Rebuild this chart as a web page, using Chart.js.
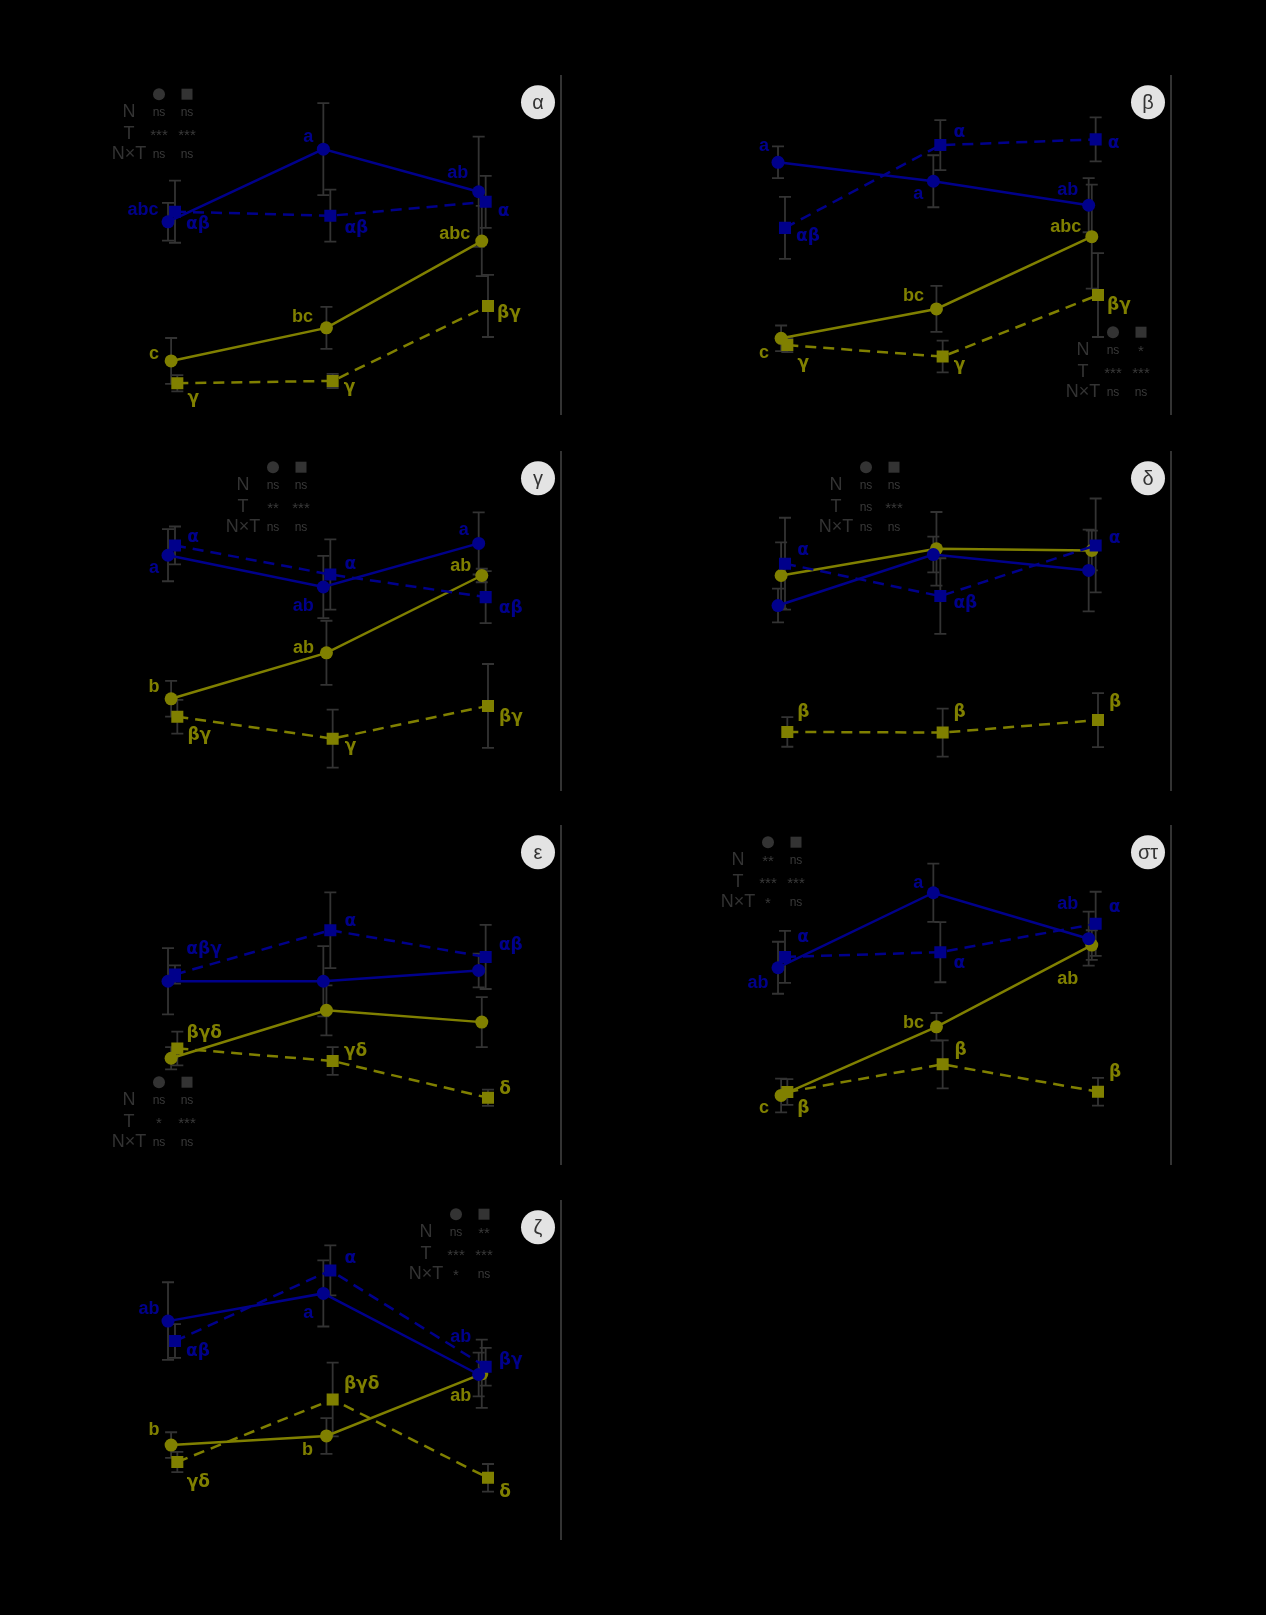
<!DOCTYPE html>
<html lang="el">
<head>
    <meta charset="UTF-8">
    <title>Panels α–ζ</title>
    <script src="https://cdn.jsdelivr.net/npm/chart.js"></script>
    <style>
        body {
            margin: 0;
            background-color: #000;
        }

        #page {
            position: relative;
            width: 1266px;
            height: 1615px;
        }

        .panel {
            position: absolute;
            width: 600px;
            height: 376px;
        }
    </style>
</head>
<body>

    <div id="page"></div>

    <script>
        // Séries : [bleu ●, bleu ■, olive ●, olive ■], 3 dates chacune
        const timePoints = [1, 2, 3];
        const seriesNames = ['N1 ●', 'N1 ■', 'N2 ●', 'N2 ■'];
        const statRows = ['N', 'T', 'N×T'];

        const meanAlpha = [[56.9, 78.4, 65.8], [59.9, 58.7, 62.8], [15.7, 25.5, 51.2], [9.1, 9.8, 32.0]];
        const errAlpha = [[5.6, 13.6, 16.3], [9.2, 7.7, 7.7], [6.8, 6.2, 10.4], [2.4, 2.1, 9.2]];
        const lettersAlpha = [['abc', 'a', 'ab'], ['αβ', 'αβ', 'α'], ['c', 'bc', 'abc'], ['γ', 'γ', 'βγ']];
        const statsAlpha = [['ns', 'ns'], ['***', '***'], ['ns', 'ns']];

        const meanBeta = [[74.5, 68.9, 61.8], [55.1, 79.6, 81.3], [22.4, 31.1, 52.5], [20.4, 17.0, 35.2]];
        const errBeta = [[4.7, 7.7, 8.0], [9.2, 7.4, 6.5], [3.8, 6.8, 15.4], [2.1, 4.7, 12.4]];
        const lettersBeta = [['a', 'a', 'ab'], ['αβ', 'α', 'α'], ['c', 'bc', 'abc'], ['γ', 'γ', 'βγ']];
        const statsBeta = [['ns', '*'], ['***', '***'], ['ns', 'ns']];

        const meanGamma = [[69.5, 60.1, 73.0], [72.4, 63.8, 57.1], [27.0, 40.6, 63.5], [21.7, 15.2, 24.9]];
        const errGamma = [[7.7, 9.2, 9.2], [5.6, 10.4, 7.7], [5.3, 9.5, 2.0], [5.0, 8.6, 12.4]];
        const lettersGamma = [['a', 'ab', 'a'], ['α', 'α', 'αβ'], ['b', 'ab', 'ab'], ['βγ', 'γ', 'βγ']];
        const statsGamma = [['ns', 'ns'], ['**', '***'], ['ns', 'ns']];

        const meanDelta = [[54.6, 69.7, 65.0], [67.0, 57.4, 72.4], [63.5, 71.4, 70.9], [17.2, 17.0, 20.7]];
        const errDelta = [[5.0, 5.3, 12.1], [13.6, 11.2, 13.9], [9.8, 10.9, 5.9], [4.4, 7.1, 8.0]];
        const lettersDelta = [['', '', ''], ['α', 'αβ', 'α'], ['', '', ''], ['β', 'β', 'β']];
        const statsDelta = [['ns', 'ns'], ['ns', '***'], ['ns', 'ns']];

        const meanEpsilon = [[54.1, 54.1, 57.3], [56.1, 69.2, 61.3], [31.3, 45.5, 42.0], [34.2, 30.5, 19.6]];
        const errEpsilon = [[9.8, 10.4, 5.0], [2.7, 11.2, 9.5], [3.3, 7.4, 7.4], [5.0, 4.1, 2.4]];
        const lettersEpsilon = [['', '', ''], ['αβγ', 'α', 'αβ'], ['', '', ''], ['βγδ', 'γδ', 'δ']];
        const statsEpsilon = [['ns', 'ns'], ['*', '***'], ['ns', 'ns']];

        const meanSt = [[58.1, 80.3, 66.7], [61.3, 62.7, 71.1], [20.3, 40.6, 64.8], [21.3, 29.5, 21.4]];
        const errSt = [[7.7, 8.6, 8.0], [7.7, 8.9, 9.5], [5.0, 4.1, 4.4], [3.8, 7.1, 4.1]];
        const lettersSt = [['ab', 'a', 'ab'], ['α', 'α', 'α'], ['c', 'bc', 'ab'], ['β', 'β', 'β']];
        const statsSt = [['**', 'ns'], ['***', '***'], ['*', 'ns']];

        const meanZeta = [[64.5, 72.7, 48.7], [58.6, 79.5, 51.0], [27.8, 30.5, 48.9], [22.8, 41.3, 18.1]];
        const errZeta = [[11.5, 9.8, 6.5], [5.0, 7.4, 5.6], [3.8, 5.3, 10.1], [3.0, 10.9, 4.1]];
        const lettersZeta = [['ab', 'a', 'ab'], ['αβ', 'α', 'βγ'], ['b', 'b', 'ab'], ['γδ', 'βγδ', 'δ']];
        const statsZeta = [['ns', '**'], ['***', '***'], ['*', 'ns']];

        // Mise en page : décalage des lettres (px) par rapport au point
        const offsAlpha = [[[-25, -12], [-15, -12], [-21, -19]], [[23, 13], [26, 13], [18, 10]], [[-17, -7], [-24, -11], [-27, -7]], [[16, 15], [17, 7], [21, 8]]];
        const offsBeta = [[[-14, -16], [-15, 13], [-21, -15]], [[23, 9], [19, -13], [18, 4]], [[-17, 15], [-23, -13], [-26, -10]], [[16, 18], [17, 9], [21, 10]]];
        const offsGamma = [[[-14, 13], [-20, 19], [-15, -13]], [[18, -8], [20, -10], [25, 11]], [[-17, -12], [-23, -5], [-21, -9]], [[22, 19], [18, 8], [23, 12]]];
        const offsDelta = [[[0, 0], [0, 0], [0, 0]], [[18, -13], [25, 7], [19, -7]], [[0, 0], [0, 0], [0, 0]], [[16, -19], [17, -20], [17, -17]]];
        const offsEpsilon = [[[0, 0], [0, 0], [0, 0]], [[29, -25], [20, -9], [25, -11]], [[0, 0], [0, 0], [0, 0]], [[27, -15], [23, -9], [17, -8]]];
        const offsSt = [[[-20, 15], [-15, -10], [-21, -35]], [[18, -19], [19, 11], [19, -16]], [[-17, 13], [-23, -4], [-24, 34]], [[16, 17], [18, -14], [17, -19]]];
        const offsZeta = [[[-19, -12], [-15, 20], [-18, -37]], [[23, 11], [20, -12], [25, -6]], [[-17, -15], [-19, 14], [-21, 22]], [[21, 21], [29, -15], [17, 15]]];

        const panels = [
            { name: 'α', mean: meanAlpha, err: errAlpha, letters: lettersAlpha, stats: statsAlpha, offs: offsAlpha, col: 0, row: 0, statsAt: [34, 18] },
            { name: 'β', mean: meanBeta, err: errBeta, letters: lettersBeta, stats: statsBeta, offs: offsBeta, col: 1, row: 0, statsAt: [378, 256] },
            { name: 'γ', mean: meanGamma, err: errGamma, letters: lettersGamma, stats: statsGamma, offs: offsGamma, col: 0, row: 1, statsAt: [148, 15] },
            { name: 'δ', mean: meanDelta, err: errDelta, letters: lettersDelta, stats: statsDelta, offs: offsDelta, col: 1, row: 1, statsAt: [131, 15] },
            { name: 'ε', mean: meanEpsilon, err: errEpsilon, letters: lettersEpsilon, stats: statsEpsilon, offs: offsEpsilon, col: 0, row: 2, statsAt: [34, 256] },
            { name: 'στ', mean: meanSt, err: errSt, letters: lettersSt, stats: statsSt, offs: offsSt, col: 1, row: 2, statsAt: [33, 16] },
            { name: 'ζ', mean: meanZeta, err: errZeta, letters: lettersZeta, stats: statsZeta, offs: offsZeta, col: 0, row: 3, statsAt: [331, 13] }
        ];

        const colLeft = [0, 610];
        const rowTop = [76, 452, 826, 1201];
        const colors = ['#00008b', '#00008b', '#808000', '#808000'];
        const shapes = ['circle', 'rect', 'circle', 'rect'];
        const radii = [6.5, 8.5, 6.5, 8.5];
        const dashes = [[], [11, 7], [], [11, 7]];
        const dodge = [-0.03, 0.015, -0.01, 0.03];
        const FONT = '"Liberation Sans", Arial, sans-serif';

        // Barres d'erreur, lettres, tableau des tests et pastille du panneau
        const decorPlugin = {
            id: 'decor',
            beforeDatasetsDraw(chart) {
                const ctx = chart.ctx;
                const y = chart.scales.y;
                ctx.save();
                ctx.strokeStyle = '#333';
                ctx.lineWidth = 1.8;
                chart.data.datasets.forEach((ds, i) => {
                    const meta = chart.getDatasetMeta(i);
                    ds.errors.forEach((e, j) => {
                        const px = meta.data[j].x;
                        const top = y.getPixelForValue(ds.data[j].y + e);
                        const bot = y.getPixelForValue(ds.data[j].y - e);
                        ctx.beginPath();
                        ctx.moveTo(px, top); ctx.lineTo(px, bot);
                        ctx.moveTo(px - 6, top); ctx.lineTo(px + 6, top);
                        ctx.moveTo(px - 6, bot); ctx.lineTo(px + 6, bot);
                        ctx.stroke();
                    });
                });
                ctx.restore();
            },
            afterDatasetsDraw(chart, args, opts) {
                const ctx = chart.ctx;
                const area = chart.chartArea;
                ctx.save();

                // lettres de significativité (grecques en DejaVu, plus épaisses)
                ctx.textAlign = 'center';
                ctx.textBaseline = 'middle';
                chart.data.datasets.forEach((ds, i) => {
                    const meta = chart.getDatasetMeta(i);
                    ds.letters.forEach((txt, j) => {
                        if (!txt) return;
                        const o = opts.offs[i][j];
                        const greek = /[α-ω]/.test(txt);
                        ctx.font = greek ? 'bold 17px "DejaVu Sans", sans-serif' : 'bold 18px ' + FONT;
                        ctx.fillStyle = ds.borderColor;
                        ctx.fillText(txt, meta.data[j].x + o[0], meta.data[j].y + o[1]);
                    });
                });

                // tableau N / T / N×T
                const x0 = area.left + opts.statsAt[0];
                const y0 = area.top + opts.statsAt[1];
                ctx.fillStyle = '#333';
                ctx.beginPath();
                ctx.arc(x0 + 30, y0, 6, 0, 2 * Math.PI);
                ctx.fill();
                ctx.fillRect(x0 + 58 - 5.5, y0 - 5.5, 11, 11);
                const rowY = [18, 40, 60];
                statRows.forEach((r, k) => {
                    ctx.font = '18px ' + FONT;
                    ctx.fillStyle = '#333';
                    ctx.fillText(r, x0, y0 + rowY[k]);
                    ctx.fillStyle = '#3a3a3a';
                    opts.stats[k].forEach((s, c) => {
                        const star = s.indexOf('*') >= 0;
                        ctx.font = (star ? '15px ' : '12px ') + FONT;
                        ctx.fillText(s, x0 + 30 + 28 * c, y0 + rowY[k] + (star ? 2 : 0));
                    });
                });

                // pastille
                const cx = area.right - 23;
                const cy = area.top + 26;
                ctx.fillStyle = '#e3e3e3';
                ctx.beginPath();
                ctx.arc(cx, cy, 17, 0, 2 * Math.PI);
                ctx.fill();
                ctx.fillStyle = '#333';
                ctx.font = '20px ' + FONT;
                ctx.fillText(opts.name, cx, cy + 1);
                ctx.restore();
            }
        };

        const page = document.getElementById('page');

        panels.forEach(p => {
            const div = document.createElement('div');
            div.className = 'panel';
            div.style.left = colLeft[p.col] + 'px';
            div.style.top = (rowTop[p.row] - 10) + 'px';
            const canvas = document.createElement('canvas');
            canvas.width = 600;
            canvas.height = 376;
            div.appendChild(canvas);
            page.appendChild(div);

            const datasets = seriesNames.map((s, i) => ({
                label: s,
                data: timePoints.map((t, j) => ({ x: t + dodge[i], y: p.mean[i][j] })),
                errors: p.err[i],
                letters: p.letters[i],
                borderColor: colors[i],
                backgroundColor: colors[i],
                borderWidth: 2.5,
                borderDash: dashes[i],
                pointStyle: shapes[i],
                pointRadius: radii[i],
                pointBorderWidth: 0,
                tension: 0
            }));

            new Chart(canvas.getContext('2d'), {
                type: 'line',
                data: { datasets: datasets },
                options: {
                    responsive: false,
                    animation: false,
                    devicePixelRatio: 1,
                    layout: { padding: { top: 10, right: 39, left: 0, bottom: 0 } },
                    plugins: {
                        legend: { display: false },
                        tooltip: { enabled: false },
                        decor: { name: p.name, stats: p.stats, offs: p.offs, statsAt: p.statsAt }
                    },
                    scales: {
                        x: {
                            type: 'linear',
                            min: 0.5,
                            max: 3.5,
                            grid: { display: false },
                            border: { color: '#000' },
                            ticks: { display: false },
                            afterFit: s => { s.height = 28; }
                        },
                        y: {
                            min: 0,
                            max: 100,
                            grid: { display: false },
                            border: { color: '#000' },
                            ticks: { color: '#000', stepSize: 20 },
                            afterFit: s => { s.width = 95; }
                        },
                        y2: {
                            position: 'right',
                            min: 0,
                            max: 100,
                            grid: { display: false },
                            ticks: { display: false },
                            border: { display: true, color: '#333', width: 2 },
                            afterFit: s => { s.width = 0; }
                        }
                    }
                },
                plugins: [decorPlugin]
            });
        });
    </script>

</body>
</html>
